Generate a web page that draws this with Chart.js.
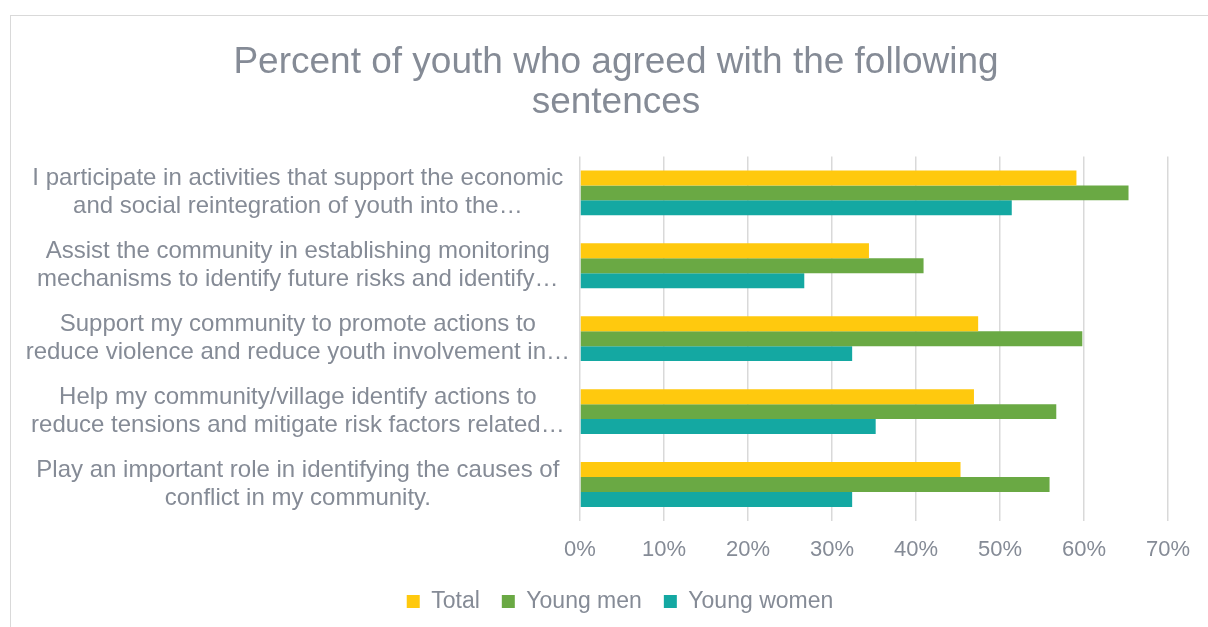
<!DOCTYPE html>
<html>
<head>
<meta charset="utf-8">
<title>Percent of youth who agreed with the following sentences</title>
<script src="https://cdn.jsdelivr.net/npm/chart.js@4/dist/chart.umd.min.js"></script>
<style>
    html, body {
        margin: 0;
        padding: 0;
        background: #ffffff;
        overflow: hidden;
    }
    .chart-wrap {
        position: absolute;
        left: 0;
        top: 0;
        width: 1208px;
        height: 627px;
    }
    .frame {
        position: absolute;
        left: 10px;
        top: 15px;
        width: 1400px;
        height: 800px;
        border: 1px solid #d9d9d9;
        pointer-events: none;
    }
</style>
</head>
<body>
<div class="frame"></div>
<div class="chart-wrap">
    <canvas id="youth-chart"></canvas>
</div>
<script>
// Chart data
const categories = [
    ['I participate in activities that support the economic', 'and social reintegration of youth into the\u2026'],
    ['Assist the community in establishing monitoring', 'mechanisms to identify future risks and identify\u2026'],
    ['Support my community to promote actions to', 'reduce violence and reduce youth involvement in\u2026'],
    ['Help my community/village identify actions to', 'reduce tensions and mitigate risk factors related\u2026'],
    ['Play an important role in identifying the causes of', 'conflict in my community.']
];
const totalValues = [59.1, 34.4, 47.4, 46.9, 45.3];
const youngMenValues = [65.3, 40.9, 59.8, 56.7, 55.9];
const youngWomenValues = [51.4, 26.7, 32.4, 35.2, 32.4];
const tickLabels = ['0%', '10%', '20%', '30%', '40%', '50%', '60%', '70%'];

document.addEventListener('DOMContentLoaded', function () {
    const textColor = '#858b96';
    const gridColor = '#d9d9d9';
    const fontFamily = '"Liberation Sans", Arial, sans-serif';

    // The original chart box runs past the right edge of the picture,
    // so title and legend are centred on that wider box
    const centreOnFrame = {
        id: 'centreOnFrame',
        afterLayout(chart) {
            if (chart.titleBlock) {
                chart.titleBlock.left = 10;
                chart.titleBlock.right = 1222;
            }
            if (chart.legend) {
                chart.legend.left = 10;
                chart.legend.right = 1230;
            }
        }
    };

    const ctx = document.getElementById('youth-chart');

    new Chart(ctx, {
        type: 'bar',
        data: {
            labels: categories,
            datasets: [
                {
                    label: 'Total',
                    data: totalValues,
                    backgroundColor: '#ffc90e'
                },
                {
                    label: 'Young men',
                    data: youngMenValues,
                    backgroundColor: '#6aa944'
                },
                {
                    label: 'Young women',
                    data: youngWomenValues,
                    backgroundColor: '#14a8a2'
                }
            ]
        },
        options: {
            indexAxis: 'y',
            responsive: true,
            maintainAspectRatio: false,
            animation: false,
            devicePixelRatio: 1,
            layout: {
                padding: { left: 12, right: 40, top: 15, bottom: 4 }
            },
            datasets: {
                bar: {
                    categoryPercentage: 0.615,
                    barPercentage: 1.0
                }
            },
            scales: {
                x: {
                    min: 0,
                    max: 70,
                    grid: {
                        color: gridColor,
                        lineWidth: 1.5,
                        drawTicks: false
                    },
                    border: { display: false },
                    ticks: {
                        stepSize: 10,
                        padding: 16,
                        color: textColor,
                        font: { family: fontFamily, size: 22 },
                        callback: function (value) {
                            return tickLabels[Math.round(value / 10)];
                        }
                    },
                    afterFit: function (scale) {
                        scale.height = 47;
                    }
                },
                y: {
                    grid: { display: false, drawTicks: false },
                    border: { display: false },
                    ticks: {
                        crossAlign: 'center',
                        padding: 10,
                        color: textColor,
                        font: { family: fontFamily, size: 24, lineHeight: 1.167 }
                    },
                    afterFit: function (scale) {
                        scale.width = 568;
                    }
                }
            },
            plugins: {
                title: {
                    display: true,
                    text: ['Percent of youth who agreed with the following', 'sentences'],
                    color: textColor,
                    font: { family: fontFamily, size: 37, weight: 'normal', lineHeight: 1.1 },
                    padding: { top: 27, bottom: 33 }
                },
                legend: {
                    position: 'bottom',
                    labels: {
                        color: textColor,
                        boxWidth: 13,
                        boxHeight: 13,
                        padding: 22,
                        font: { family: fontFamily, size: 23 }
                    }
                },
                tooltip: { enabled: false }
            }
        },
        plugins: [centreOnFrame]
    });
});
</script>
</body>
</html>
